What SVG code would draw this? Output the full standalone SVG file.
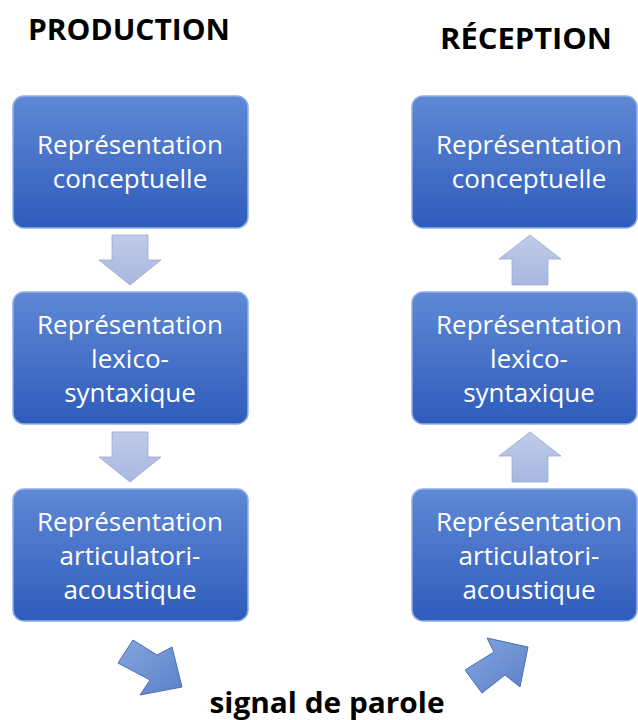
<svg xmlns="http://www.w3.org/2000/svg" width="638" height="720" viewBox="0 0 638 720">
<defs>
<linearGradient id="boxg" x1="0" y1="0" x2="0" y2="1">
<stop offset="0" stop-color="#5f88d4"/>
<stop offset="1" stop-color="#2f5cbc"/>
</linearGradient>
<linearGradient id="arrg" x1="0" y1="0" x2="0" y2="1">
<stop offset="0" stop-color="#c0cbe8"/>
<stop offset="1" stop-color="#a9b7e0"/>
</linearGradient>
<linearGradient id="diag" x1="0" y1="0" x2="1" y2="1">
<stop offset="0" stop-color="#86a6e0"/>
<stop offset="1" stop-color="#5a80c8"/>
</linearGradient>
</defs>
<style>
.box{fill:url(#boxg);stroke:#8fb0e8;stroke-width:1.5}
.bt{font-family:"Open Sans","Noto Sans",sans-serif;font-size:26px;fill:#ffffff;text-anchor:middle}
.ttl{font-family:"Open Sans","Noto Sans",sans-serif;font-size:28px;font-weight:bold;fill:#000;text-anchor:middle}
.va{fill:url(#arrg);stroke:#9aa9d6;stroke-width:0.8}
.da{fill:url(#diag);stroke:#4a6fb8;stroke-width:1}
</style>
<text class="ttl" x="129" y="40" textLength="202" lengthAdjust="spacingAndGlyphs">PRODUCTION</text>
<text class="ttl" x="526" y="49" textLength="172" lengthAdjust="spacingAndGlyphs">RÉCEPTION</text>
<text class="ttl" x="327" y="713" textLength="235" lengthAdjust="spacingAndGlyphs">signal de parole</text>

<g id="p1"><rect class="box" x="13" y="96" width="235" height="132" rx="11"/>
<text class="bt" x="130" y="154">Représentation</text><text class="bt" x="130" y="188">conceptuelle</text></g>
<g id="p2"><rect class="box" x="13" y="292" width="235" height="132" rx="11"/>
<text class="bt" x="130" y="334">Représentation</text><text class="bt" x="130" y="368">lexico-</text><text class="bt" x="130" y="402">syntaxique</text></g>
<g id="p3"><rect class="box" x="13" y="489" width="235" height="132" rx="11"/>
<text class="bt" x="130" y="531">Représentation</text><text class="bt" x="130" y="565">articulatori-</text><text class="bt" x="130" y="599">acoustique</text></g>

<g id="r1"><rect class="box" x="412" y="96" width="225" height="132" rx="11"/>
<text class="bt" x="529" y="154">Représentation</text><text class="bt" x="529" y="188">conceptuelle</text></g>
<g id="r2"><rect class="box" x="412" y="292" width="225" height="132" rx="11"/>
<text class="bt" x="529" y="334">Représentation</text><text class="bt" x="529" y="368">lexico-</text><text class="bt" x="529" y="402">syntaxique</text></g>
<g id="r3"><rect class="box" x="412" y="489" width="225" height="132" rx="11"/>
<text class="bt" x="529" y="531">Représentation</text><text class="bt" x="529" y="565">articulatori-</text><text class="bt" x="529" y="599">acoustique</text></g>

<g id="connectors">
<polygon class="va" points="112,235 148,235 148,260 161,260 130,285 99,260 112,260"/>
<polygon class="va" points="112,432 148,432 148,457 161,457 130,482 99,457 112,457"/>
<polygon class="va" points="512,285 548,285 548,259 561,259 530,235 499,259 512,259"/>
<polygon class="va" points="512,482 548,482 548,456 561,456 530,432 499,456 512,456"/>
<polygon class="da" points="118,663 133,640 157,655 172,647 182,687 140,695 150,680"/>
<polygon class="da" points="465,670 482,693 505,675 520,687 528,647 487,638 494,652"/>
</g>
</svg>
